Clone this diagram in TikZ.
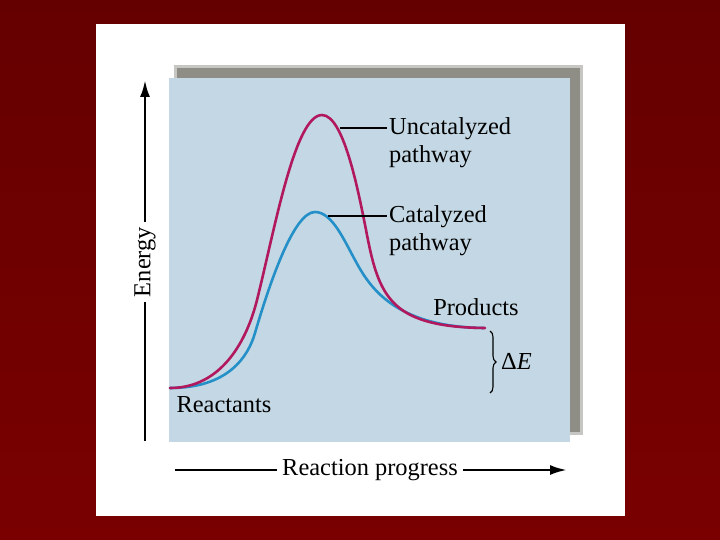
\documentclass[tikz,border=0pt]{standalone}
\usepackage{fontspec}
\setmainfont{Liberation Serif}
\usetikzlibrary{positioning, arrows.meta, decorations.pathreplacing, calc}
\definecolor{slideRed}{HTML}{7A0000}
\definecolor{slideRedDark}{HTML}{650000}
\definecolor{plotBlue}{HTML}{C3D8E4}
\definecolor{shadowGrey}{HTML}{8E8E86}
\definecolor{uncatMagenta}{HTML}{B2185E}
\definecolor{catBlue}{HTML}{2590C8}

\begin{document}
\begin{tikzpicture}[x={(1bp,0bp)}, y={(0bp,-1bp)},
    font=\fontsize{24.5}{28}\selectfont,
    axis/.style={line width=2.6bp, black},
    leader/.style={line width=1.6bp, black},
    curve/.style={line width=2.6bp, line cap=round},
    txt/.style={inner sep=2bp, align=left}]
    \useasboundingbox (0,0) rectangle (720,540);
    % slide and panel
    \shade[top color=slideRedDark, bottom color=slideRed] (0,0) rectangle (720,540);
    \fill[white] (96,24) rectangle (625,516);
    \fill[shadowGrey!50] (174,65) rectangle (583,435);
    \fill[shadowGrey] (177,68) rectangle (580,432);
    \fill[plotBlue] (169,78) rectangle (570,442);

    % axes
    \node[rotate=90, inner sep=5bp] (energy) at (145,262) {Energy};
    \coordinate (ebase) at (145,441);
    \coordinate (etop) at (145,80);
    \draw[axis] (ebase) -- (energy.west);
    \draw[axis, -{Latex[length=17bp, width=10bp]}] (energy.east) -- (etop);
    \node[inner sep=5bp] (progress) at (370,470) {Reaction progress};
    \coordinate (pstart) at (175,470);
    \coordinate (pend) at (567,470);
    \draw[axis] (pstart) -- (progress.west);
    \draw[axis, -{Latex[length=17bp, width=10bp]}] (progress.east) -- (pend);

    % pathways
    \coordinate (react) at (170,388);
    \coordinate (uncpeak) at (322,115);
    \coordinate (catpeak) at (315,212);
    \draw[curve, catBlue] (react)
      .. controls (228,388) and (248,357) .. (255,333)
      .. controls (272,275) and (295,212) .. (catpeak)
      .. controls (332,212) and (344,240) .. (355,260)
      .. controls (368,284) and (392,327) .. (484,328);
    \draw[curve, uncatMagenta] (react)
      .. controls (222,388) and (247,340) .. (257,300)
      .. controls (275,228) and (295,115) .. (uncpeak)
      .. controls (345,115) and (360,200) .. (368,240)
      .. controls (380,300) and (395,327) .. (485,328);

    % labels
    \coordinate (uncleader) at (340,128);
    \coordinate (catleader) at (328,216);
    \node[txt, anchor=west] (unclab) at (387,143) {Uncatalyzed\\pathway};
    \node[txt, anchor=west] (catlab) at (387,231) {Catalyzed\\pathway};
    \draw[leader] (uncleader) -- (uncleader -| unclab.west);
    \draw[leader] (catleader) -- (catleader -| catlab.west);
    \node[txt] (products) at (476,307) {Products};
    \node[txt] (reactants) at (224,405) {Reactants};
    \coordinate (btop) at (490,331);
    \coordinate (bbot) at (490,393);
    \draw[line width=1.1bp, decorate, decoration={brace, amplitude=6bp}] (btop) -- (bbot);
    \node[txt, anchor=west] (deltaE) at (499,361) {Δ\textit{E}};
\end{tikzpicture}
\end{document}
